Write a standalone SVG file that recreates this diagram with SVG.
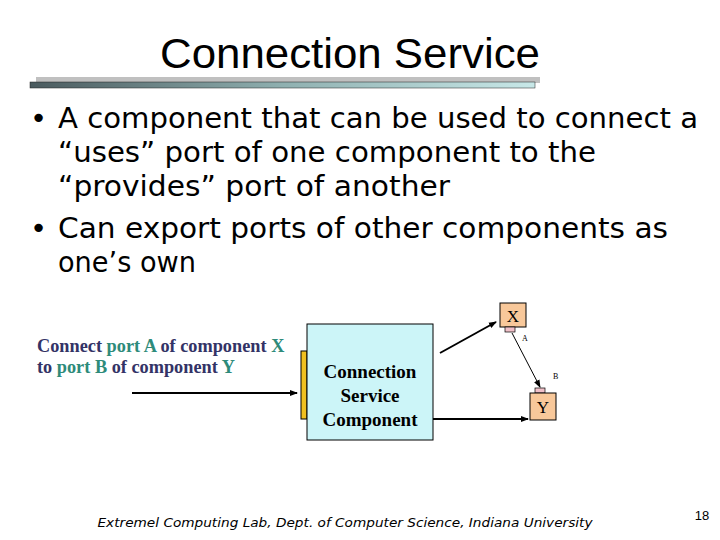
<svg xmlns="http://www.w3.org/2000/svg" width="720" height="540" viewBox="0 0 720 540">
<defs>
<linearGradient id="g" x1="0" x2="1"><stop offset="0" stop-color="#4a5a5e"/><stop offset="0.5" stop-color="#8fb0b0"/><stop offset="1" stop-color="#c8e8e8"/></linearGradient>
<marker id="ar" markerWidth="8" markerHeight="8" refX="7" refY="4" orient="auto" markerUnits="userSpaceOnUse"><path d="M0,1 L8,4 L0,7 z" fill="#000"/></marker>
</defs>
<style>
.t{font-family:"Liberation Sans",Arial,sans-serif}
.b{font-family:"DejaVu Sans",sans-serif;font-size:29px}
.s{font-family:"Liberation Serif","Times New Roman",serif}
.c{stroke:#000;stroke-width:2;fill:none}
</style>
<rect width="720" height="540" fill="#fff"/>
<text class="t" x="350" y="68" font-size="43" text-anchor="middle" textLength="380" lengthAdjust="spacingAndGlyphs">Connection Service</text>
<rect x="36" y="77" width="504" height="6" fill="#c0c0c0"/>
<rect x="30" y="82" width="505" height="6" fill="url(#g)" stroke="#222" stroke-width="0.5"/>
<g class="b">
<text x="30" y="128">•</text><text x="58" y="128" textLength="640" lengthAdjust="spacingAndGlyphs">A component that can be used to connect a</text>
<text x="58" y="162" textLength="538" lengthAdjust="spacingAndGlyphs">“uses” port of one component to the</text>
<text x="58" y="196" textLength="392" lengthAdjust="spacingAndGlyphs">“provides” port of another</text>
<text x="30" y="238">•</text><text x="58" y="238" textLength="610" lengthAdjust="spacingAndGlyphs">Can export ports of other components as</text>
<text x="58" y="272" textLength="138" lengthAdjust="spacingAndGlyphs">one’s own</text>
</g>
<g id="label" class="s" font-size="18.3" font-weight="bold" fill="#333366">
<text x="37" y="352">Connect <tspan fill="#2e8b7a">port A</tspan> of component <tspan fill="#2e8b7a">X</tspan></text>
<text x="37" y="373">to <tspan fill="#2e8b7a">port B</tspan> of component <tspan fill="#2e8b7a">Y</tspan></text>
</g>
<g id="csc">
<rect x="301" y="351" width="6" height="68" fill="#f0c020" stroke="#000"/>
<rect x="307" y="324" width="126" height="116" fill="#ccf5f8" stroke="#000"/>
<text class="s" font-size="19" font-weight="bold" text-anchor="middle"><tspan x="370" y="378">Connection</tspan><tspan x="370" y="402">Service</tspan><tspan x="370" y="426">Component</tspan></text>
</g>
<g id="X">
<rect x="500" y="303" width="26" height="24" fill="#f8c89a" stroke="#000"/>
<rect x="505" y="327" width="10" height="5" fill="#f0c0c8" stroke="#000" stroke-width="0.7"/>
<text class="s" x="513" y="322" font-size="17" text-anchor="middle">X</text>
<text class="s" x="522" y="341" font-size="8">A</text>
</g>
<g id="Y">
<rect x="535" y="388" width="10" height="5" fill="#f0c0c8" stroke="#000" stroke-width="0.7"/>
<rect x="530" y="393" width="26" height="27" fill="#f8c89a" stroke="#000"/>
<text class="s" x="543" y="413" font-size="17" text-anchor="middle">Y</text>
<text class="s" x="553" y="379" font-size="8">B</text>
</g>
<g id="connectors">
<line class="c" x1="132" y1="393" x2="297" y2="393" marker-end="url(#ar)"/>
<line class="c" x1="440" y1="353" x2="496" y2="322" marker-end="url(#ar)"/>
<line stroke="#000" stroke-width="1" x1="512" y1="333" x2="540" y2="387" marker-end="url(#ar)"/>
<line class="c" x1="433" y1="419" x2="528" y2="419" marker-end="url(#ar)"/>
</g>
<text x="345" y="527" font-family="'DejaVu Sans',sans-serif" font-size="13" font-style="italic" text-anchor="middle" textLength="495" lengthAdjust="spacingAndGlyphs">Extremel Computing Lab, Dept. of Computer Science, Indiana University</text>
<text class="t" x="702" y="520" font-size="13" text-anchor="middle">18</text>
</svg>
